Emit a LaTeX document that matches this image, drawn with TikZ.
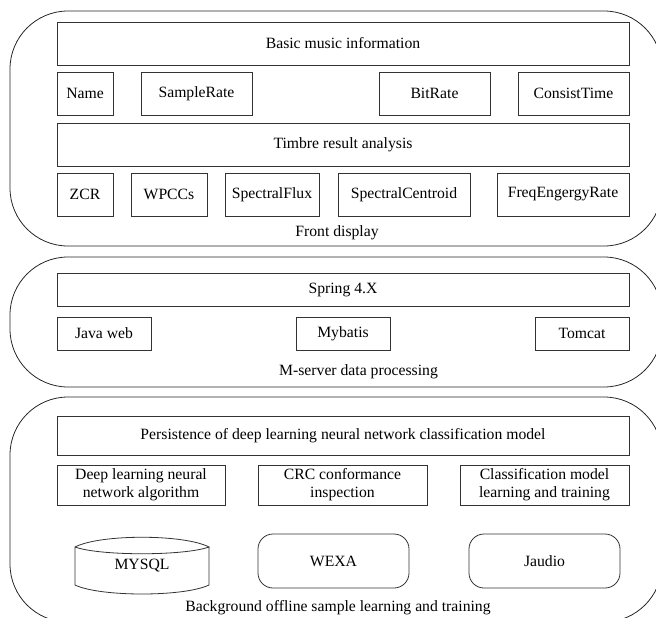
\documentclass[tikz,border=0pt]{standalone}
\usepackage{fontspec}
\setmainfont{Liberation Serif}
\begin{document}
\begin{tikzpicture}[x=1pt,y=-1pt,
  line width=0.8pt,
  every node/.style={font=\fontsize{15.7}{18}\selectfont, inner sep=0pt, outer sep=0pt},
  box/.style={draw=black!80, line width=0.8pt, align=center},
  panel/.style={draw=black!85, line width=0.8pt, rounded corners=58pt},
  rbox/.style={draw=black!80, line width=0.8pt, rounded corners=15pt},
  lbl/.style={anchor=center}]
\useasboundingbox (0,0) rectangle (656,618);
\clip (0,0) rectangle (656,618);
% panels
\draw[panel] (10,11) rectangle (662,246);
\draw[panel] (10,257) rectangle (662,387);
\draw[panel] (10,397) rectangle (662,622);
% panel 1
\node[box, minimum width=572, minimum height=43] (basic) at (343,43.5) {Basic music information};
\node[box, minimum width=56, minimum height=43] (name) at (85,93.5) {Name};
\node[box, minimum width=111, minimum height=43] (srate) at (196.5,93.5) {SampleRate};
\node[box, minimum width=111, minimum height=43] (brate) at (434.5,93.5) {BitRate};
\node[box, minimum width=111, minimum height=43] (ctime) at (573.5,93.5) {ConsistTime};
\node[box, minimum width=572, minimum height=43] (timbre) at (343,144.5) {Timbre result analysis};
\node[box, minimum width=56, minimum height=43] (zcr) at (85,194.5) {ZCR};
\node[box, minimum width=76, minimum height=43] (wpcc) at (169,194.5) {WPCCs};
\node[box, minimum width=94, minimum height=43] (flux) at (272,194.5) {SpectralFlux};
\node[box, minimum width=132, minimum height=43] (centroid) at (404,194.5) {SpectralCentroid};
\node[box, minimum width=132, minimum height=43] (freq) at (563,194.5) {FreqEngergyRate};
\node[lbl] (front) at (337,233) {Front display};
% panel 2
\node[box, minimum width=572, minimum height=33] (spring) at (343,289.5) {Spring 4.X};
\node[box, minimum width=94, minimum height=33] (java) at (104,333.5) {Java web};
\node[box, minimum width=94, minimum height=33] (mybatis) at (343,333.5) {Mybatis};
\node[box, minimum width=94, minimum height=33] (tomcat) at (582,333.5) {Tomcat};
\node[lbl] (mserver) at (358.5,372) {M-server data processing};
% panel 3
\node[box, minimum width=572, minimum height=39] (persist) at (343,435.5) {Persistence of deep learning neural network classification model};
\node[box, minimum width=168, minimum height=40] (deep) at (141,485) {Deep learning neural\\network algorithm};
\node[box, minimum width=169, minimum height=40] (crc) at (342.5,485) {CRC conformance\\inspection};
\node[box, minimum width=169, minimum height=40] (classif) at (544.5,485) {Classification model\\learning and training};
\draw[draw=black!80] (75,547) .. controls (100,534) and (184,534) .. (209,547)
  .. controls (184,556) and (100,556) .. (75,547) -- (75,585)
  .. controls (100,597) and (184,597) .. (209,585) -- (209,547);
\node[anchor=base] (mysql) at (142,569) {MYSQL};
\node[rbox, minimum width=151, minimum height=54] (wexa) at (333.5,561) {WEXA};
\node[rbox, minimum width=151, minimum height=54] (jaudio) at (544.5,561) {Jaudio};
\node[lbl] (bg) at (338,608) {Background offline sample learning and training};
\end{tikzpicture}
\end{document}
